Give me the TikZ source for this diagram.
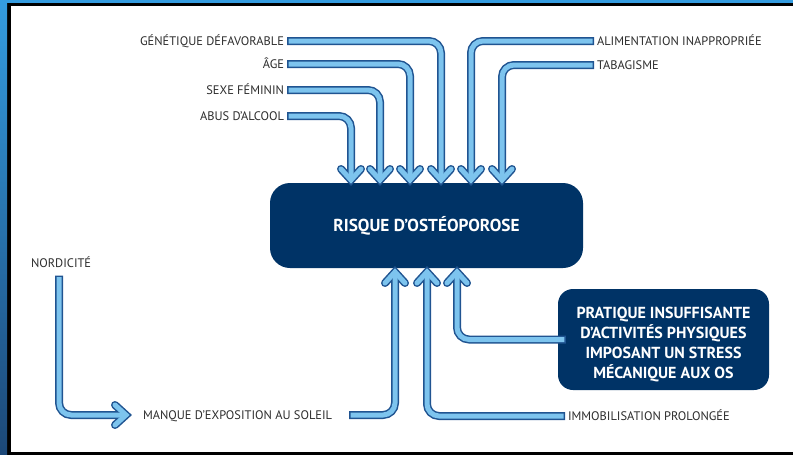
\documentclass[tikz,border=0pt]{standalone}
\usepackage{fontspec}
\setmainfont{PT Sans}
\definecolor{navy}{RGB}{0,51,102}
\definecolor{flowlight}{RGB}{125,196,238}
\definecolor{flowdark}{RGB}{32,84,145}
\definecolor{labelgray}{RGB}{45,45,45}
\definecolor{framelight}{RGB}{52,156,224}
\definecolor{framedark}{RGB}{28,72,120}

\tikzset{
  factor/.style={font=\fontsize{12.4}{13}\selectfont, text=labelgray, inner sep=0pt,
    text height=8.8pt, text depth=0pt, outer xsep=7pt},
  riskbox/.style={fill=navy, rounded corners=20pt, text=white,
    font=\fontsize{17.3}{19}\selectfont\bfseries, minimum width=313pt, minimum height=85pt},
  sportbox/.style={fill=navy, rounded corners=15pt, text=white, align=center,
    font=\fontsize{16}{20}\selectfont\bfseries, minimum width=211pt, minimum height=101pt},
  flowedge/.style={draw=flowdark, line width=8pt, rounded corners=12pt},
  flowfill/.style={draw=flowlight, line width=5pt, rounded corners=12pt},
}
% double-lined arrow: shaft, then chevron
\newcommand{\flowarrow}[3][]{%
  \draw[flowedge,line cap=rect,shorten >=4pt,#1] #2;
  \draw[flowedge,line cap=round,sharp corners] #3;
  \draw[flowfill,line cap=rect,shorten >=4pt,#1] #2;
  \draw[flowfill,line cap=round,sharp corners] #3;}
\newcommand{\chevdown}[1]{([shift={(-10,-11)}]#1) -- (#1) -- ([shift={(10,-11)}]#1)}
\newcommand{\chevup}[1]{([shift={(-10,11)}]#1) -- (#1) -- ([shift={(10,11)}]#1)}
\newcommand{\chevright}[1]{([shift={(-11,-10)}]#1) -- (#1) -- ([shift={(-11,10)}]#1)}

\begin{document}
\begin{tikzpicture}[x=1pt,y=-1pt]
  % Frame
  \useasboundingbox (0,0) rectangle (793,455);
  \fill[black] (0,0) rectangle (793,455);
  \fill[white] (11,6) rectangle (793,452);
  \fill[framelight] (0,0) rectangle (793,2.5);
  \shade[top color=framelight,bottom color=framedark] (0,0) rectangle (7,455);

  % Boxes
  \node[riskbox] (risque) at (426.5,225.5) {RISQUE D’OSTÉOPOROSE};
  \node[sportbox] (pratique) at (663.5,339.5)
    {\rule{0pt}{21pt}PRATIQUE INSUFFISANTE\\D’ACTIVITÉS PHYSIQUES\\IMPOSANT UN STRESS\\MÉCANIQUE AUX OS};

  % Factors
  \node[factor,anchor=east] (genet) at (291,41) {GÉNÉTIQUE DÉFAVORABLE};
  \node[factor,anchor=east] (age) at (291,64) {ÂGE};
  \node[factor,anchor=east] (sexe) at (291,90) {SEXE FÉMININ};
  \node[factor,anchor=east] (abus) at (291,116) {ABUS D’ALCOOL};
  \node[factor,anchor=west] (alim) at (590,41) {ALIMENTATION INAPPROPRIÉE};
  \node[factor,anchor=west] (taba) at (590,65) {TABAGISME};
  \node[factor,anchor=west] (nord) at (24,263) {NORDICITÉ};
  \node[factor,anchor=west] (manque) at (136,415) {MANQUE D’EXPOSITION AU SOLEIL};
  \node[factor,anchor=west] (immob) at (561,416) {IMMOBILISATION PROLONGÉE};

  % Arrow tips
  \coordinate (t1) at (351,180);
  \coordinate (t2) at (380,180);
  \coordinate (t3) at (410,180);
  \coordinate (t4) at (441,180);
  \coordinate (t5) at (471,180);
  \coordinate (t6) at (502,180);
  \coordinate (b1) at (395,272);
  \coordinate (b2) at (427,272);
  \coordinate (b3) at (457,272);
  \coordinate (n1) at (126,415);

  % Arrows into the risk box
  \flowarrow{(abus.east) -| (t1)}{\chevdown{t1}}
  \flowarrow{(sexe.east) -| (t2)}{\chevdown{t2}}
  \flowarrow{(age.east) -| (t3)}{\chevdown{t3}}
  \flowarrow{(genet.east) -| (t4)}{\chevdown{t4}}
  \flowarrow{(alim.west) -| (t5)}{\chevdown{t5}}
  \flowarrow{(taba.west) -| (t6)}{\chevdown{t6}}
  \flowarrow[shorten <=14pt]{(manque.east) -| (b1)}{\chevup{b1}}
  \flowarrow{(immob.west) -| (b2)}{\chevup{b2}}
  \flowarrow[shorten <=-4pt]{(pratique.west) -| (b3)}{\chevup{b3}}
  \flowarrow[shorten <=12pt]{([xshift=-2pt]nord.south) |- (n1)}{\chevright{n1}}
\end{tikzpicture}
\end{document}
